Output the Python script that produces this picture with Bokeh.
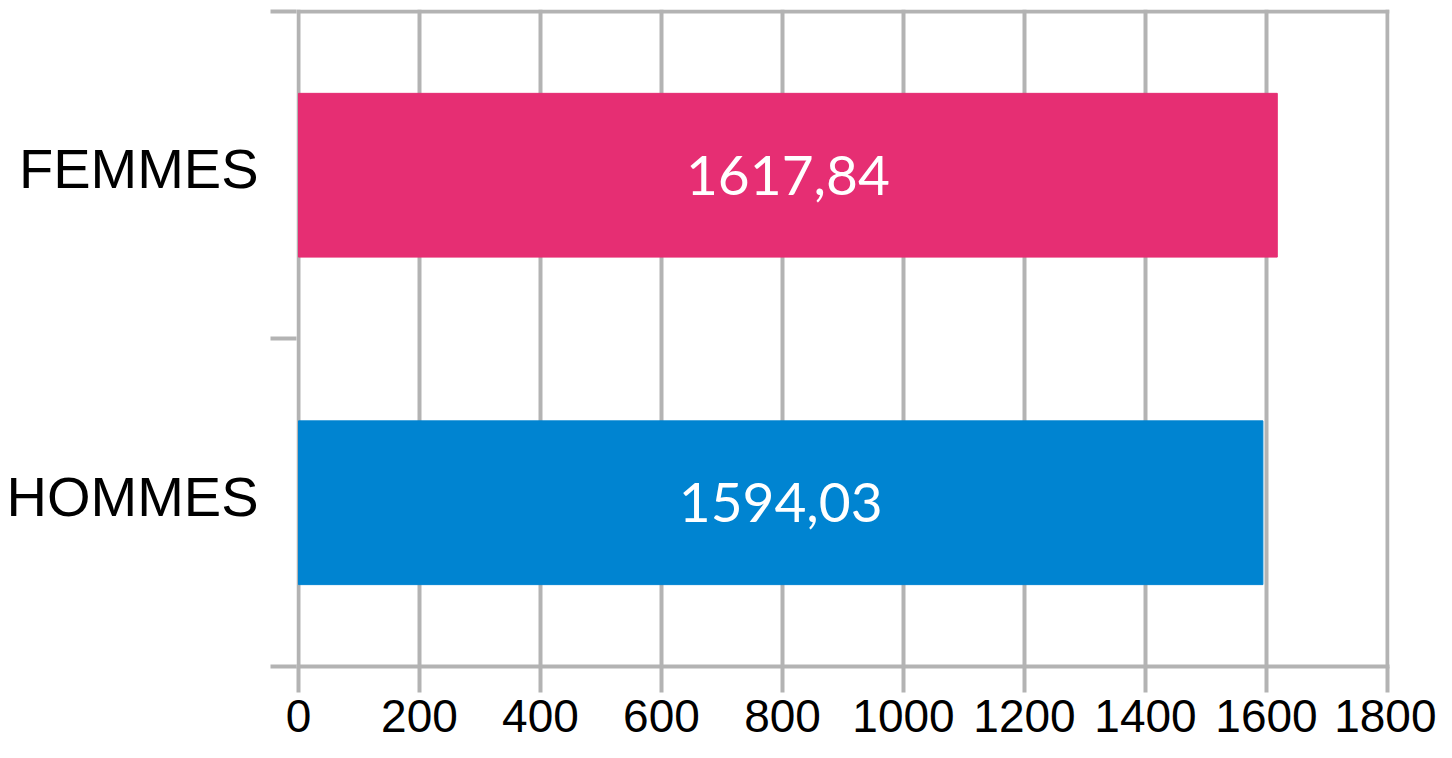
from bokeh.plotting import figure
from bokeh.models import Range1d, FixedTicker, Span, ColumnDataSource
from bokeh.core.properties import value
from bokeh.embed import file_html
from bokeh.resources import INLINE

# ---- data ----
categories = ["HOMMES", "FEMMES"]
cat_pos = [0.5, 1.5]
boundaries = [0, 1, 2]
values = [1594.03, 1617.84]
colors = ["#0084D1", "#E62E73"]
x_ticks = [0, 200, 400, 600, 800, 1000, 1200, 1400, 1600, 1800]
labels = [f"{v:.2f}".replace(".", ",") for v in values]

GRAY = "#b3b3b3"
LABEL_NUDGE = 0.02  # category labels sit slightly above band centre

p = figure(width=1436, height=742, output_backend="svg", toolbar_location=None,
           x_range=Range1d(-3.3, 1803.3), y_range=Range1d(0, 2.006),
           min_border_left=296, min_border_right=47, min_border_top=9, min_border_bottom=76)
p.outline_line_color = None
p.background_fill_color = "white"
p.border_fill_color = "white"

src = ColumnDataSource(dict(y=cat_pos, right=values, color=colors, mid=[v / 2 for v in values], lab=labels))
p.hbar(y="y", left=0, right="right", height=0.5, color="color", source=src)
p.text(x="mid", y="y", text="lab", source=src, text_color="white", text_font=value("Lato"),
       text_font_size="55px", text_align="center", text_baseline="middle")

# grid
p.ygrid.visible = False
p.xgrid.ticker = FixedTicker(ticks=x_ticks)
p.xgrid.grid_line_color = GRAY
p.xgrid.grid_line_width = 4

# top line
p.add_layout(Span(location=boundaries[-1], dimension="width", line_color=GRAY, line_width=4))

# x axis
xa = p.xaxis[0]
xa.ticker = FixedTicker(ticks=x_ticks)
xa.axis_line_color = GRAY
xa.axis_line_width = 4
xa.major_tick_line_color = GRAY
xa.major_tick_line_width = 4
xa.major_tick_out = 26
xa.major_tick_in = 0
xa.minor_tick_line_color = None
xa.major_label_standoff = 7
xa.major_label_text_font = "Liberation Sans"
xa.major_label_text_font_size = "46px"
xa.major_label_text_color = "black"

# y axis: labels at category centres, boundary ticks as minor ticks
label_pos = [c + LABEL_NUDGE for c in cat_pos]
ya = p.yaxis[0]
ya.ticker = FixedTicker(ticks=label_pos, minor_ticks=boundaries)
ya.major_label_overrides = {label_pos[i]: categories[i] for i in range(len(categories))}
ya.axis_line_color = None
ya.major_tick_line_color = None
ya.major_tick_out = 26
ya.major_tick_in = 0
ya.minor_tick_line_color = GRAY
ya.minor_tick_line_width = 4
ya.minor_tick_out = 26
ya.minor_tick_in = 0
ya.major_label_standoff = 12
ya.major_label_text_font = "Liberation Sans"
ya.major_label_text_font_size = "56px"
ya.major_label_text_color = "black"

open("out.html", "w").write(file_html(p, INLINE))
